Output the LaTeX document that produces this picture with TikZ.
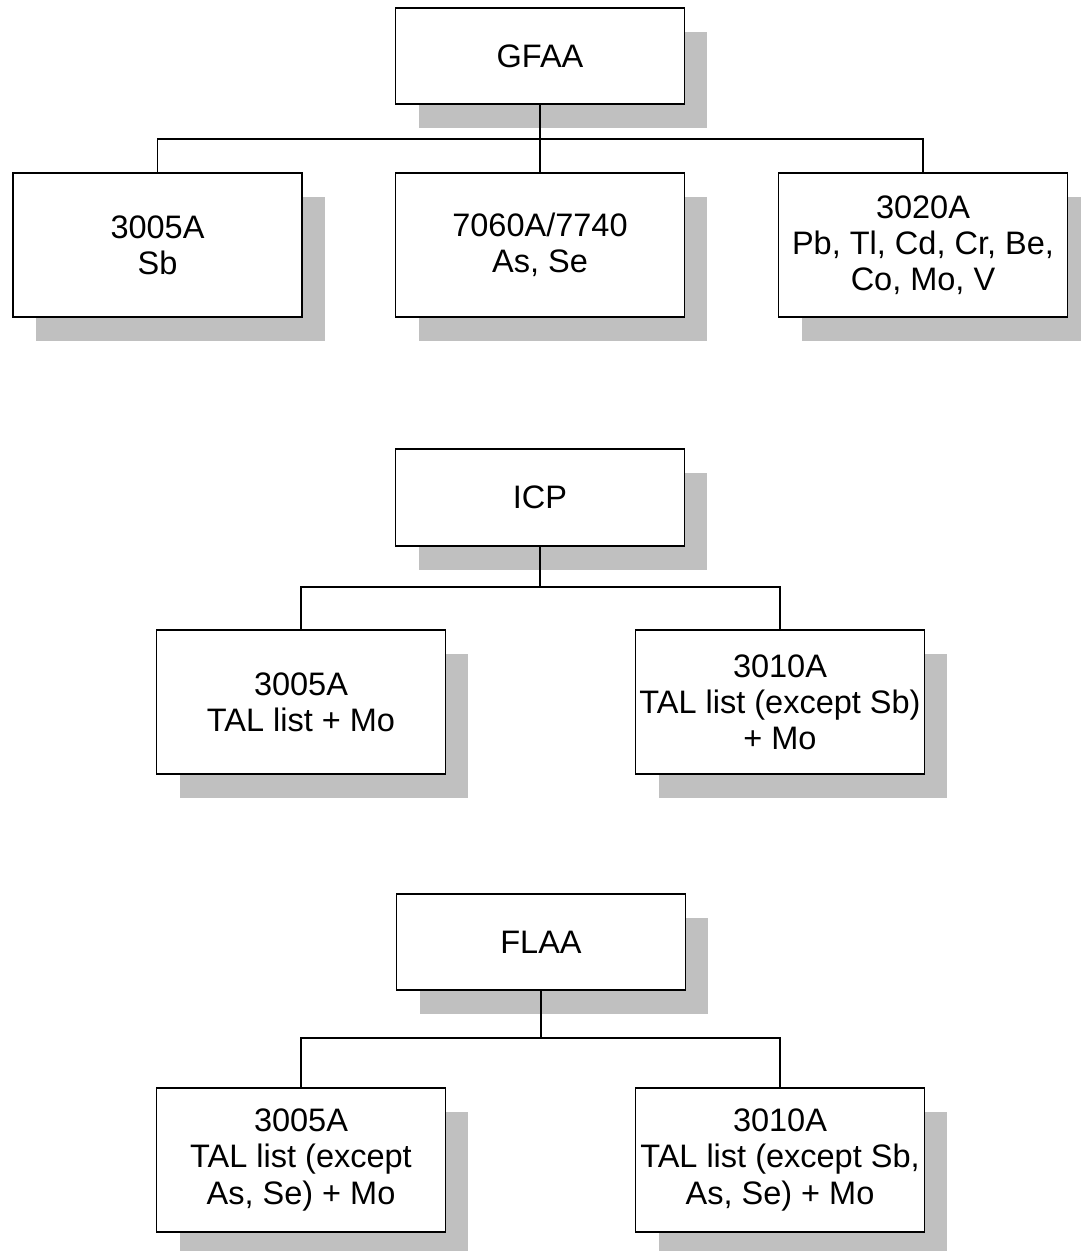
\documentclass[tikz,border=0pt]{standalone}
\usepackage{fontspec}
\setmainfont{Liberation Sans}
\usetikzlibrary{shadows}
\definecolor{shade}{RGB}{192, 192, 192}

\begin{document}
\begin{tikzpicture}[x=0.02cm, y=-0.02cm,
    methodbox/.style={draw, fill=white, line width=0.9pt, align=center,
        minimum width=5.78cm, minimum height=2.88cm, inner sep=1pt,
        font=\fontsize{18.5}{20.5}\selectfont,
        drop shadow={shadow xshift=0.46cm, shadow yshift=-0.48cm, fill=shade, opacity=1}},
    techbox/.style={methodbox, minimum height=1.93cm},
    link/.style={line width=0.6pt}]
        \useasboundingbox (0,0) rectangle (1081,1251);

        % GFAA group
        \node[techbox] (gfaa) at (540,56) {GFAA};
        \node[methodbox] (gsb) at (157.5,245) {3005A\\Sb};
        \node[methodbox] (gas) at (540,245) {7060A/7740\\As, Se};
        \node[methodbox] (gpb) at (923,245) {3020A\\Pb, Tl, Cd, Cr, Be,\\Co, Mo, V};
        \coordinate (gbus) at (540,139);
        \draw[link] (gfaa.south) -- (gas.north);
        \draw[link] (gsb.north) |- (gbus) -| (gpb.north);

        % ICP group
        \node[techbox] (icp) at (540,497.5) {ICP};
        \node[methodbox] (itot) at (301,702) {3005A\\TAL list + Mo};
        \node[methodbox] (idis) at (780,702) {3010A\\TAL list (except Sb)\\+ Mo};
        \coordinate (ibus) at (540,587);
        \draw[link] (icp.south) -- (ibus);
        \draw[link] (itot.north) |- (ibus) -| (idis.north);

        % FLAA group
        \node[techbox] (flaa) at (541,942) {FLAA};
        \node[methodbox] (ftot) at (301,1160) {3005A\\TAL list (except\\As, Se) + Mo};
        \node[methodbox] (fdis) at (780,1160) {3010A\\TAL list (except Sb,\\As, Se) + Mo};
        \coordinate (fbus) at (541,1038);
        \draw[link] (flaa.south) -- (fbus);
        \draw[link] (ftot.north) |- (fbus) -| (fdis.north);
    \end{tikzpicture}
\end{document}
